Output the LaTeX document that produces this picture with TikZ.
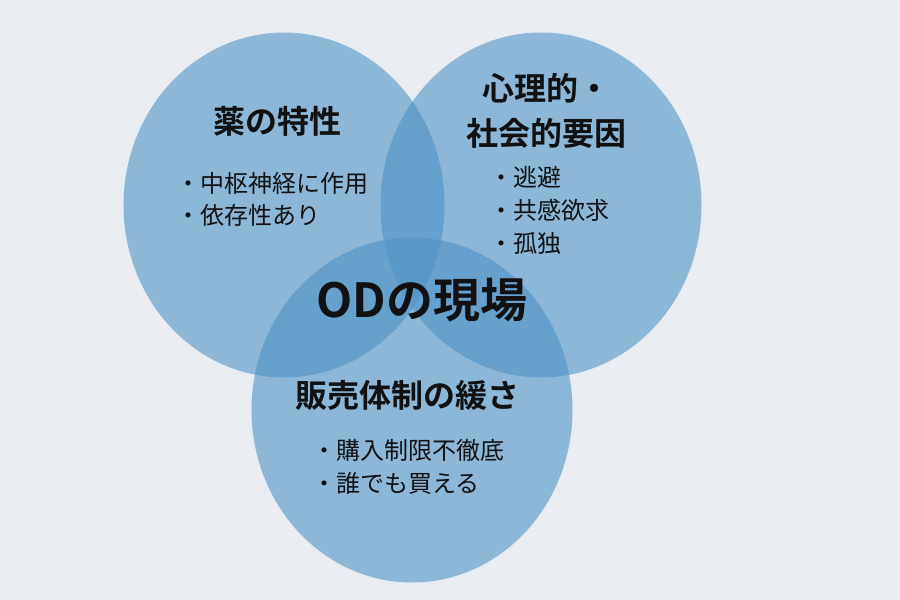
\documentclass[tikz,border=0pt]{standalone}
\usepackage{fontspec}
\setmainfont{Noto Sans CJK JP}[BoldFont={Noto Sans CJK JP Bold}]
\usetikzlibrary{shapes.geometric}
\definecolor{bgc}{RGB}{233,237,241}
\definecolor{vennc}{RGB}{78,147,199}
\definecolor{txt}{RGB}{17,17,17}
\begin{document}
\begin{tikzpicture}[x=1pt,y=-1pt,
  venn/.style={ellipse, fill=vennc, fill opacity=0.6, draw=none, inner sep=0pt,
    minimum width=321pt, minimum height=345pt},
  ttl/.style={text=txt, inner sep=0pt, text height=0.88em, text depth=0.12em,
    yshift=-9pt, font=\bfseries\fontsize{32}{40}\selectfont},
  bigttl/.style={text=txt, inner sep=0pt, text height=0.88em, text depth=0.12em,
    yshift=-13pt, font=\bfseries\fontsize{47}{56}\selectfont},
  item/.style={text=txt, anchor=west, inner sep=0pt, text height=0.88em, text depth=0.12em,
    yshift=-6pt, font=\fontsize{24}{30}\selectfont}]
\useasboundingbox (0,0) rectangle (900,600);
\fill[bgc] (0,0) rectangle (900,600);
% circles
\node[venn] (cA) at (284,205) {};
\node[venn] (cB) at (541,205) {};
\node[venn] (cC) at (412,410) {};
% titles
\node[ttl] (tA) at (277,121) {薬の特性};
\node[ttl] (tB1) at (546,88) {心理的・};
\node[ttl] (tB2) at (546,133) {社会的要因};
\node[bigttl] (tO) at (422,301) {ODの現場};
\node[ttl] (tC) at (407,395) {販売体制の緩さ};
% items
\node[item] (a1) at (176,183) {・中枢神経に作用};
\node[item] (a2) at (176,215) {・依存性あり};
\node[item] (b1) at (489,177) {・逃避};
\node[item] (b2) at (489,210) {・共感欲求};
\node[item] (b3) at (489,243) {・孤独};
\node[item] (c1) at (312,450) {・購入制限不徹底};
\node[item] (c2) at (312,483) {・誰でも買える};
\end{tikzpicture}
\end{document}
